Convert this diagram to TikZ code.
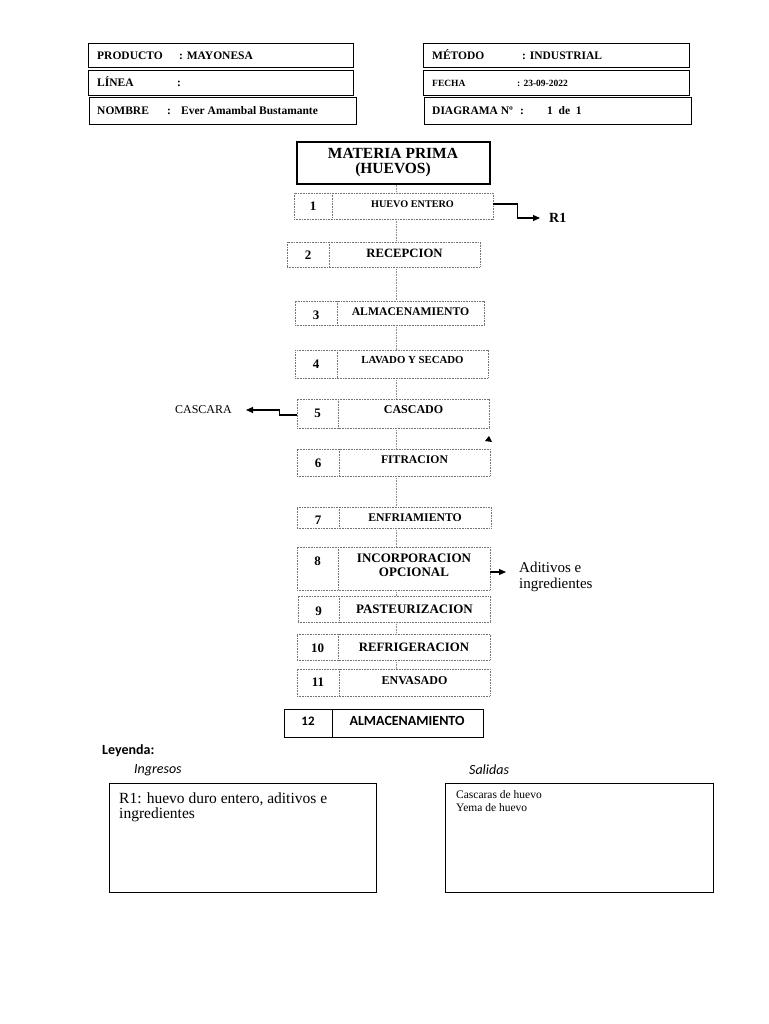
\documentclass[tikz,border=0pt]{standalone}
\usepackage{fontspec}
\setmainfont{Liberation Serif}
\newfontfamily\calibri{Carlito}
\usetikzlibrary{arrows.meta,fit}

\begin{document}
\begin{tikzpicture}
		% Page measured in pixels, y going down
		[x=1pt, y=-1pt,
		cabecera/.style={draw=black, line width=1pt},
		dato/.style={anchor=west, inner sep=0pt, text height=1.6ex, text depth=0pt, font=\bfseries\fontsize{11.5}{13}\selectfont},
		paso/.style={draw=black!55, line width=0.6pt, dash pattern=on 0.8pt off 0.8pt},
		numero/.style={inner sep=0pt, font=\bfseries\fontsize{13}{15}\selectfont},
		etiqueta/.style={inner sep=0pt, align=center},
		enlace/.style={black!45, line width=0.6pt, dash pattern=on 0.8pt off 0.8pt},
		flecha/.style={black, line width=1.1pt, -{Triangle[length=7pt,width=6pt]}},
		marco/.style={draw=black, line width=1pt}]

		\fill[white] (0,0) rectangle (768,1024);
		\useasboundingbox (0,0) rectangle (768,1024);

		% Header boxes
		\draw[cabecera] (88,44) rectangle (353,68);
		\draw[cabecera] (88,71) rectangle (353,96);
		\draw[cabecera] (89,98) rectangle (356,125);
		\draw[cabecera] (423,44) rectangle (689,68);
		\draw[cabecera] (423,71) rectangle (689,96);
		\draw[cabecera] (424,98) rectangle (691,125);

		\node[dato] (producto) at (97,56) {PRODUCTO};
		\node[dato] (producto v) at (179,56) {: MAYONESA};
		\node[dato] (linea) at (97,83) {LÍNEA};
		\node[dato] (linea v) at (177,83) {:};
		\node[dato] (nombre) at (97,111) {NOMBRE};
		\node[dato] (nombre c) at (167,111) {:};
		\node[dato] (nombre v) at (181,111) {Ever Amambal Bustamante};
		\node[dato] (metodo) at (432,56) {MÉTODO};
		\node[dato] (metodo v) at (522,56) {: INDUSTRIAL};
		\node[dato, font=\bfseries\fontsize{9.5}{11}\selectfont] (fecha) at (432,83) {FECHA};
		\node[dato, font=\bfseries\fontsize{9.5}{11}\selectfont] (fecha v) at (517,83) {: 23-09-2022};
		\node[dato] (diagrama) at (432,111) {DIAGRAMA Nº};
		\node[dato] (diagrama c) at (520,111) {:};
		\node[dato] (diagrama v) at (547,111) {1\ \ de\ \ 1};

		% Raw material
		\node[draw, line width=1.3pt, inner sep=0pt, fit={(297,142) (490,184)}] (mp) {};
		\node[etiqueta, font=\bfseries\fontsize{15.5}{15}\selectfont] (mp t) at (393,163) {MATERIA PRIMA\\(HUEVOS)};

		% Steps: number/x1/y1/x2/y2/divider/label y/number y/size/label
		\foreach \n/\xa/\ya/\xb/\yb/\xd/\ly/\ny/\fs/\txt in {
			1/294/193/493/219/332/204/206/10.2/{HUEVO ENTERO},
			2/287/242/480/267/329/253/255/12.7/RECEPCION,
			3/295/301/484/325/337/312/315/11.7/ALMACENAMIENTO,
			4/295/350/488/378/337/360/364/10.8/{LAVADO Y SECADO},
			5/297/399/489/428/338/410/413/12/CASCADO,
			6/297/449/490/476/339/460/463/11.7/FITRACION,
			7/297/507/491/528/339/518/520/11.7/ENFRIAMIENTO,
			8/297/547/490/590/338/565/561/13/{INCORPORACION\\OPCIONAL},
			9/298/596/490/622/339/609/611/13/PASTEURIZACION,
			10/297/634/490/660/338/647/648/12.8/REFRIGERACION,
			11/297/669/490/696/339/681/682/12/ENVASADO}
		{
			\node[paso, inner sep=0pt, fit={(\xa,\ya) (\xb,\yb)}] (s\n) {};
			\draw[paso] (\xd,\ya) -- (\xd,\yb);
			\node[numero] (n\n) at ({(\xa+\xd)/2},\ny) {\n};
			\node[etiqueta, font=\bfseries\fontsize{\fs}{14}\selectfont] (e\n) at ({(\xd+\xb)/2},\ly) {\txt};
		}

		% Last step, solid box
		\node[draw, line width=1pt, inner sep=0pt, fit={(284,709) (483,737)}] (s12) {};
		\draw[line width=1pt] (s12.north -| 332,0) -- (s12.south -| 332,0);
		\node[inner sep=0pt, font=\calibri\bfseries\fontsize{13}{15}\selectfont] (n12) at (308,721) {12};
		\node[inner sep=0pt, font=\calibri\bfseries\fontsize{14}{16}\selectfont] (e12) at (407,721) {ALMACENAMIENTO};

		% Dotted links down the column
		\coordinate (eje) at (396,0);
		\foreach \a/\b in {mp/s1, s1/s2, s2/s3, s3/s4, s4/s5, s5/s6, s6/s7, s7/s8, s8/s9, s9/s10, s10/s11}
			\draw[enlace] (\a.south -| eje) -- (\b.north -| eje);

		% Side outputs
		\node[anchor=west, inner sep=0pt, font=\bfseries\fontsize{14}{16}\selectfont] (r1) at (549,218) {R1};
		\draw[flecha, shorten >=9pt] (s1.east |- e1) -- ++(24,0) |- (r1.west);

		\node[anchor=east, inner sep=0pt, font=\fontsize{12}{14}\selectfont] (cascara) at (232,410) {CASCARA};
		\draw[flecha, shorten >=14pt] (s5.west |- 0,415) -- ++(-17,0) |- (cascara.east);

		\node[anchor=north west, inner sep=0pt, align=left, font=\fontsize{15}{16}\selectfont] (aditivos) at (519,562) {Aditivos e\\ingredientes};
		\coordinate (ad) at (506,572);
		\draw[flecha] (s8.east |- ad) -- (ad);

		% Stray arrow tip under step 5
		\fill (489,436) -- (485,441) -- (492,442) -- cycle;

		% Legend
		\node[anchor=west, inner sep=0pt, font=\calibri\bfseries\fontsize{14}{16}\selectfont] (leyenda) at (102,751) {Leyenda:};
		\node[anchor=west, inner sep=0pt, font=\calibri\itshape\fontsize{14}{16}\selectfont] (ingresos) at (134,770) {Ingresos};
		\node[anchor=west, inner sep=0pt, font=\calibri\itshape\fontsize{14}{16}\selectfont] (salidas) at (469,770) {Salidas};
		\draw[marco] (109,783) rectangle (376,892);
		\draw[marco] (445,783) rectangle (713,892);
		\node[anchor=north west, inner sep=0pt, align=left, font=\fontsize{15.5}{15}\selectfont] (ingresos t) at (119,793) {R1: huevo duro entero, aditivos e\\ingredientes};
		\node[anchor=north west, inner sep=0pt, align=left, font=\fontsize{11.5}{13}\selectfont] (salidas t) at (456,790) {Cascaras de huevo\\Yema de huevo};
	\end{tikzpicture}
\end{document}
